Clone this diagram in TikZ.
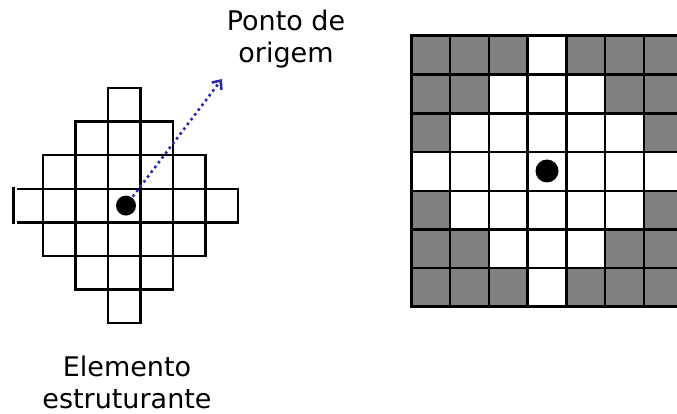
\documentclass[tikz,border=0pt]{standalone}
\usepackage{fontspec}
\setmainfont{DejaVu Sans}
\usetikzlibrary{arrows.meta}
\definecolor{cinza}{RGB}{128,128,128}
\definecolor{azul}{RGB}{45,45,170}

\begin{document}
\begin{tikzpicture}[x=1pt, y=-1pt, >=stealth, line width=2.4pt,
  rotulo/.style={align=center, font=\fontsize{27}{32}\selectfont, inner sep=0pt}]
  \useasboundingbox (0,0) rectangle (677,414);

  % Elemento estruturante (losango)
  \foreach \i in {0,...,6}{
    \foreach \j in {0,...,6}{
      \pgfmathtruncatemacro{\d}{abs(\i-3)+abs(\j-3)}
      \pgfmathtruncatemacro{\e}{(\i==3)&&(\j==0)}
      \ifnum\d<4 \ifnum\e=0
        \draw (10.5+32.5*\j, 88+33.6*\i) rectangle ++(32.5,33.6);
      \fi\fi
    }
  }
  % celula da esquerda (aberta)
  \draw (17,188.8) -- (43,188.8);
  \draw (17,222.4) -- (43,222.4);
  \draw (13.5,187) -- (13.5,224);

  % Ponto de origem
  \node[circle, fill, inner sep=0pt, minimum size=20] (centro) at (126,205.6) {};
  \coordinate (seta) at (222,79);
  \draw[-{Straight Barb[length=7pt,width=12pt]}, azul, line width=2.6pt,
    dash pattern=on 2.6pt off 3.4pt] (centro) -- (seta);

  % Imagem (grade 7x7)
  \foreach \i in {0,...,6}{
    \foreach \j in {0,...,6}{
      \pgfmathtruncatemacro{\d}{abs(\i-3)+abs(\j-3)}
      \ifnum\d>3
        \draw[fill=cinza] (411.5+38.7*\j, 36+38.7*\i) rectangle ++(38.7,38.7);
      \else
        \draw[fill=white] (411.5+38.7*\j, 36+38.7*\i) rectangle ++(38.7,38.7);
      \fi
    }
  }
  \draw[line width=3pt] (411.5,36) rectangle ++(270.9,270.9);
  \node[circle, fill, inner sep=0pt, minimum size=23] (centro2) at (547,171) {};

  % Textos
  \node[rotulo, anchor=base] (origem) at (286,63) {Ponto de\\origem};
  \node[rotulo, anchor=base] (elemento) at (127,408) {Elemento\\estruturante};
\end{tikzpicture}
\end{document}
